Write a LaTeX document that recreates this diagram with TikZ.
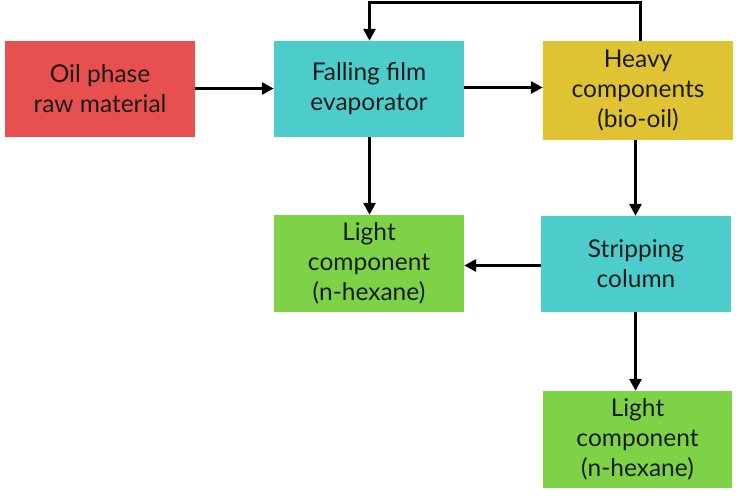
\documentclass[tikz,border=0pt]{standalone}
\usepackage{fontspec}
\setmainfont{Lato}
\usetikzlibrary{arrows.meta}
\definecolor{cred}{RGB}{232,80,80}
\definecolor{ccyan}{RGB}{77,204,204}
\definecolor{cyel}{RGB}{224,195,50}
\definecolor{cgreen}{RGB}{125,210,70}
\definecolor{ctext}{RGB}{26,26,26}
\tikzset{
  box/.style={rectangle, draw=none, minimum width=190pt, minimum height=96pt, inner sep=0pt,
    align=center, text=ctext, font=\fontsize{24.5}{30}\selectfont},
  arr/.style={line width=3pt, draw=black, -{Triangle[length=12pt,width=12pt]}},
}
\begin{document}
\begin{tikzpicture}[x=1pt,y=-1pt]
\useasboundingbox (0,0) rectangle (738,495);
\node[box, fill=cred] (oil) at (100,89) {Oil phase\\raw material};
\node[box, fill=ccyan] (fall) at (369,89) {Falling film\\evaporator};
\node[box, fill=cyel, minimum height=99pt] (heavy) at (638,90.5) {Heavy\\components\\(bio-oil)};
\node[box, fill=cgreen, minimum height=97pt] (light1) at (369,263.5) {Light\\component\\(n-hexane)};
\node[box, fill=ccyan] (strip) at (636,264) {Stripping\\column};
\node[box, fill=cgreen, minimum height=97pt, minimum width=189pt] (light2) at (637.5,439.5) {Light\\component\\(n-hexane)};
\coordinate (top) at (0,2.5);
\draw[arr] ([yshift=0.5pt]oil.east) -- ([yshift=0.5pt]oil.east -| fall.west);
\draw[arr] ([yshift=1.5pt]fall.east) -- ([yshift=1.5pt]fall.east -| heavy.west);
\draw[arr] ([xshift=2.5pt]heavy.north) -- ([xshift=2.5pt]heavy.north |- top) -| ([xshift=0.5pt]fall.north);
\draw[arr] ([xshift=0.5pt]fall.south) -- ([xshift=0.5pt]light1.north);
\draw[arr] ([xshift=-2.5pt]heavy.south) -- ([xshift=-2.5pt]heavy.south |- strip.north);
\draw[arr] ([yshift=-1.5pt]strip.west) -- ([yshift=-1.5pt]strip.west -| light1.east);
\draw[arr] ([xshift=-0.5pt]strip.south) -- ([xshift=-0.5pt]strip.south |- light2.north);
\end{tikzpicture}
\end{document}
